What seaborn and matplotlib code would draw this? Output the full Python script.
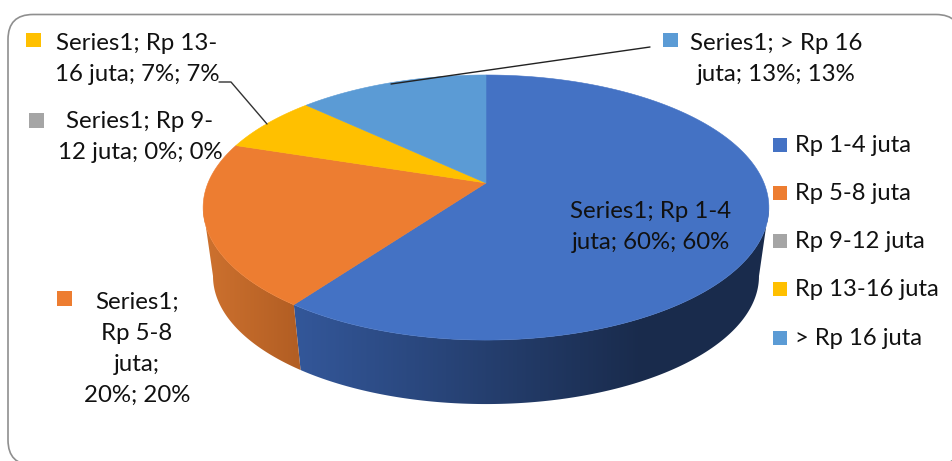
import numpy as np
import matplotlib
matplotlib.use("Agg")
import matplotlib.pyplot as plt
from matplotlib.patches import FancyBboxPatch, Polygon, Rectangle
import seaborn as sns

# Income brackets and their shares in percent
categories = ["Rp 1-4 juta", "Rp 5-8 juta", "Rp 9-12 juta", "Rp 13-16 juta", "> Rp 16 juta"]
shares = [60, 20, 0, 7, 13]
series_name = "Series1"
palette_hex = ["#4472C4", "#ED7D31", "#A5A5A5", "#FFC000", "#5B9BD5"]

# Line breaks of each data label, as pieces of "series; category; value; percent"
label_lines = [
    ["{s}; Rp 1-4", "juta; {v}%; {v}%"],
    ["{s};", "Rp 5-8", "juta;", "{v}%; {v}%"],
    ["{s}; Rp 9-", "12 juta; {v}%; {v}%"],
    ["{s}; Rp 13-", "16 juta; {v}%; {v}%"],
    ["{s}; > Rp 16", "juta; {v}%; {v}%"],
]

sns.set_theme(style="white")
plt.rcParams["font.family"] = ["Lato", "DejaVu Sans"]
colors = sns.color_palette(palette_hex)

fig = plt.figure(figsize=(9.52, 4.61), dpi=100, facecolor="white")
ax = fig.add_axes([0, 0, 1, 1])

# Chart-area outline, running off the right and bottom edges
ax.add_patch(FancyBboxPatch((33, 39.5), 903, 400.5, boxstyle="round,pad=25,rounding_size=25",
                            fc="white", ec="#8f8f8f", lw=1.2))

# Perspective projection of the pie disc
CX, CY, A, B, K = 486, 183, 278, 128, 0.185
BOTTOM_SCALE, BOTTOM_CY = 0.965, 252.5


def top_rim(theta):
    u, v = np.sin(theta), np.cos(theta)
    w = 1 + K * v
    return CX + A * u / w, CY - B * v / w


def bottom_rim(theta):
    x, y = top_rim(theta)
    return CX + BOTTOM_SCALE * (x - CX), BOTTOM_CY + BOTTOM_SCALE * (y - CY)


edges = 2 * np.pi * np.cumsum([0] + shares) / sum(shares)

# The side wall is visible between the two widest points of the rim
wall_from = np.arccos(-K)
wall_to = 2 * np.pi - wall_from

# Shading along the side wall of each slice, from its left to its right end
side_shades = {
    0: ((0.20, 0.34, 0.60), (0.10, 0.17, 0.30), 299, 640),
    1: ((0.80, 0.44, 0.18), (0.70, 0.37, 0.14), 210, 296),
}

for i, (c1, c2, x0, x1) in side_shades.items():
    start = max(edges[i], wall_from)
    stop = min(edges[i + 1], wall_to)
    thetas = np.linspace(start, stop, 300)
    tx, ty = top_rim(thetas)
    bx, by = bottom_rim(thetas)
    wall = Polygon(np.column_stack([np.r_[tx, bx[::-1]], np.r_[ty, by[::-1]]]),
                   fc="none", ec="none", transform=ax.transData)
    ax.add_patch(wall)
    ramp = np.clip((np.arange(952) + 0.5 - x0) / (x1 - x0), 0, 1)[None, :, None]
    shade = (1 - ramp) * np.array(c1) + ramp * np.array(c2)
    img = ax.imshow(shade, extent=(0, 952, 461, 0), aspect="auto", zorder=2,
                    interpolation="bilinear")
    img.set_clip_path(wall)

ax.set_xlim(0, 952)
ax.set_ylim(461, 0)
ax.axis("off")

# Top surface of the pie
for i, share in enumerate(shares):
    if share == 0:
        continue
    thetas = np.linspace(edges[i], edges[i + 1], 200)
    x, y = top_rim(thetas)
    pts = np.column_stack([np.r_[CX, x], np.r_[CY, y]])
    ax.add_patch(Polygon(pts, fc=colors[i], ec=colors[i], lw=0.4, zorder=3))

# Leader lines from the outer labels to their slices
ax.plot([219, 231, 267], [82, 82, 124], color="#333333", lw=1, zorder=4)
ax.plot([650, 391], [47, 84], color="#222222", lw=1, zorder=4)

TEXT = "#111111"
label_size = 24 * 72 / 100
label_layout = [
    (651, 227, (544, 201)),
    (137, 349, (57, 291)),
    (140, 137, (29, 113)),
    (137, 59, (26, 33)),
    (776, 59, (663, 33)),
]
for i, (tx, ty, (sx, sy)) in enumerate(label_layout):
    text = "\n".join(line.format(s=series_name, v=shares[i]) for line in label_lines[i])
    ax.text(tx, ty, text, ha="center", va="center", fontsize=label_size,
            color=TEXT, linespacing=1.58, zorder=5)
    ax.add_patch(Rectangle((sx, sy), 14.5, 14.5, fc=colors[i], ec="none", zorder=5))

# Legend column
legend_rows = [145, 193, 241, 289, 338]
for i, (name, row) in enumerate(zip(categories, legend_rows)):
    ax.add_patch(Rectangle((773, row - 7), 14, 14, fc=colors[i], ec="none", zorder=5))
    ax.text(795, row, name, ha="left", va="center", fontsize=23.8 * 72 / 100,
            color=TEXT, zorder=5)

fig.savefig("out.png", dpi=100, facecolor="white")
